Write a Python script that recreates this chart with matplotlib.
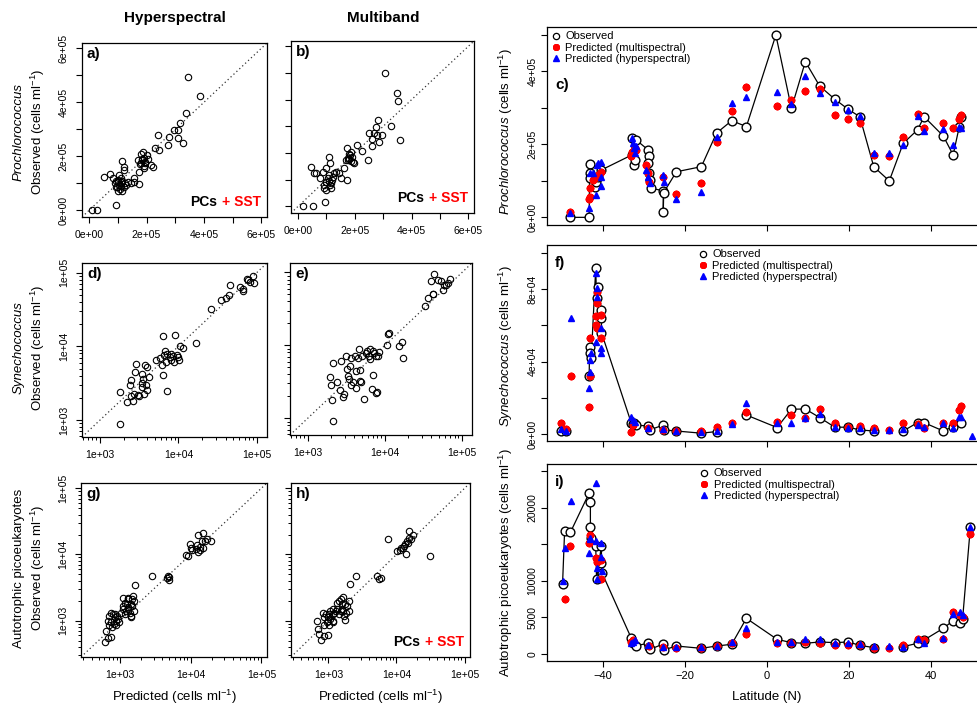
import numpy as np
import matplotlib
matplotlib.use('Agg')
import matplotlib.pyplot as plt
from matplotlib.lines import Line2D
from matplotlib.ticker import FixedLocator, NullFormatter, LogLocator, FuncFormatter

plt.rcParams['font.family'] = ['Liberation Sans', 'DejaVu Sans']
plt.rcParams['mathtext.fontset'] = 'custom'
plt.rcParams['mathtext.rm'] = 'Liberation Sans'
plt.rcParams['mathtext.it'] = 'Liberation Sans:italic'
plt.rcParams['mathtext.bf'] = 'Liberation Sans:bold'

nan = np.nan

# ---- scatter panels: predicted (x) vs observed (y) ----
# a) Prochlorococcus, hyperspectral (units of 1e5 cells/ml)
a_pred = [0.09, 0.27, 0.94, 0.51, 0.71, 0.82, 0.95, 1.0, 1.05, 1.1, 0.98, 1.08, 1.15, 1.2, 1.25, 1.3, 1.35, 1.14, 1.23, 1.2,
          1.1, 1.02, 1.15, 1.45, 1.55, 1.58, 1.73, 1.75, 1.8, 1.85, 1.9, 1.78, 1.95, 2.0, 1.88, 1.82, 1.95, 2.05, 1.92, 2.16,
          2.22, 2.3, 2.39, 2.45, 2.74, 2.8, 2.97, 3.09, 3.15, 3.11, 3.26, 3.38, 3.44, 3.87, 0.9, 1.0, 1.05, 1.12, 0.93, 1.85,
          1.9, 1.7]
a_obs = [0.0, 0.0, 0.19, 1.24, 1.36, 1.18, 1.1, 1.05, 0.95, 0.9, 0.85, 0.78, 0.72, 0.85, 1.0, 0.95, 1.05, 1.82, 1.61, 1.5,
         1.2, 1.12, 1.1, 1.0, 1.05, 1.18, 0.99, 1.4, 1.75, 1.85, 1.95, 1.7, 1.8, 2.05, 2.15, 2.08, 1.75, 1.9, 1.55, 1.67,
         1.61, 2.29, 2.78, 2.23, 2.41, 2.72, 2.97, 2.97, 3.22, 2.66, 2.48, 3.59, 4.95, 4.25, 1.0, 0.7, 1.3, 1.05, 0.85, 1.9,
         1.65, 1.85]

# b) Prochlorococcus, multiband (1e5 cells/ml)
b_pred = [0.17, 0.52, 0.95, 0.47, 0.55, 0.64, 0.76, 0.9, 0.93, 0.99, 1.05, 1.1, 1.08, 1.13, 1.16, 1.2, 1.22, 1.28, 1.34, 1.45,
          1.51, 0.99, 0.87, 0.97, 1.16, 1.71, 1.63, 1.69, 1.71, 1.8, 1.83, 1.78, 1.86, 1.9, 1.76, 1.97, 1.92, 2.07, 2.24, 2.47,
          2.59, 2.62, 2.5, 2.67, 2.73, 2.79, 2.85, 2.83, 2.94, 3.26, 3.6, 3.52, 3.49, 3.08, 1.0, 1.1, 1.12, 1.75, 1.85]
b_obs = [0.0, 0.0, 0.16, 1.49, 1.24, 1.24, 1.05, 0.68, 0.8, 0.93, 1.05, 1.18, 1.86, 1.61, 0.87, 0.99, 1.11, 1.24, 1.3, 1.24,
         1.05, 1.42, 1.3, 0.62, 0.68, 0.99, 1.42, 1.73, 2.2, 1.79, 1.92, 1.98, 2.04, 1.86, 1.82, 1.61, 1.67, 2.31, 2.07, 1.73,
         2.25, 2.54, 2.75, 2.76, 2.97, 2.69, 2.41, 3.22, 2.66, 3.0, 2.48, 3.94, 4.25, 4.99, 0.9, 0.95, 0.8, 1.75, 1.7]

# d) Synechococcus, hyperspectral (log10 cells/ml)
d_pred = [3.25, 3.25, 3.35, 3.38, 3.39, 3.40, 3.42, 3.43, 3.45, 3.46, 3.48, 3.50, 3.53, 3.53, 3.54, 3.55, 3.56, 3.58, 3.59, 3.60,
          3.62, 3.60, 3.72, 3.77, 3.79, 3.80, 3.80, 3.81, 3.83, 3.84, 3.85, 3.86, 3.89, 3.90, 3.91, 3.93, 3.94, 3.95, 3.98, 4.00,
          4.01, 4.02, 4.06, 4.23, 4.41, 4.54, 4.61, 4.65, 4.66, 4.78, 4.83, 4.83, 4.87, 4.89, 4.95, 4.97, 4.91]
d_obs = [2.95, 3.38, 3.25, 3.47, 3.54, 3.32, 3.26, 3.36, 3.65, 3.76, 3.34, 3.32, 3.63, 3.45, 3.50, 3.56, 3.36, 3.74, 3.47, 3.41,
         3.59, 3.72, 3.81, 3.84, 3.74, 3.61, 4.14, 3.88, 3.93, 3.79, 3.40, 3.90, 3.86, 3.81, 3.90, 3.87, 3.79, 4.16, 3.88, 3.86,
         3.81, 4.00, 3.98, 4.04, 4.51, 4.63, 4.66, 4.69, 4.83, 4.81, 4.78, 4.75, 4.91, 4.90, 4.95, 4.86, 4.87]

# e) Synechococcus, multiband (log10 cells/ml)
e_pred = [3.33, 3.32, 3.30, 3.29, 3.33, 3.38, 3.42, 3.43, 3.46, 3.47, 3.50, 3.51, 3.52, 3.53, 3.55, 3.56, 3.56, 3.59, 3.61, 3.62,
          3.63, 3.65, 3.66, 3.68, 3.68, 3.69, 3.70, 3.73, 3.75, 3.77, 3.79, 3.81, 3.83, 3.85, 3.85, 3.86, 3.88, 3.89, 3.90, 3.91,
          3.92, 3.81, 4.03, 4.04, 4.06, 4.18, 4.22, 4.23, 4.52, 4.56, 4.62, 4.63, 4.60, 4.64, 4.69, 4.73, 4.75, 4.77, 4.79, 4.84,
          4.82]
e_obs = [2.96, 3.25, 3.45, 3.56, 3.76, 3.50, 3.39, 3.79, 3.29, 3.33, 3.85, 3.67, 3.58, 3.54, 3.72, 3.83, 3.45, 3.50, 3.86, 3.42,
         3.65, 3.83, 3.95, 3.66, 3.51, 3.50, 3.85, 3.26, 3.90, 3.92, 3.86, 3.81, 3.40, 3.60, 3.92, 3.90, 3.35, 3.85, 3.36, 3.86,
         3.91, 3.95, 4.01, 4.16, 4.17, 3.99, 4.05, 3.83, 4.54, 4.65, 4.70, 4.71, 4.88, 4.98, 4.90, 4.88, 4.76, 4.83, 4.83, 4.91,
         4.85]

# g) Autotrophic picoeukaryotes, hyperspectral (log10 cells/ml)
g_pred = [2.79, 2.83, 2.88, 2.80, 2.85, 2.89, 2.83, 2.85, 2.88, 2.90, 2.93, 2.94, 2.91, 2.95, 2.98, 2.96, 2.99, 3.01, 3.04, 3.07,
          3.09, 3.05, 2.88, 2.93, 3.05, 3.07, 3.10, 3.12, 3.15, 3.12, 3.14, 3.15, 3.16, 3.17, 3.20, 3.20, 3.17, 3.19, 3.11, 3.12,
          3.22, 3.45, 3.67, 3.68, 3.69, 3.70, 3.94, 3.96, 3.99, 4.01, 4.02, 4.08, 4.11, 4.09, 4.13, 4.16, 4.11, 4.17, 4.18, 4.21,
          4.23, 4.13, 4.29]
g_obs = [2.68, 2.73, 2.75, 2.85, 2.93, 2.90, 3.00, 3.07, 3.12, 3.10, 3.05, 3.00, 2.95, 2.93, 3.02, 3.07, 2.98, 3.12, 3.17, 3.10,
         3.14, 3.22, 2.98, 3.10, 3.34, 3.27, 3.25, 3.32, 3.25, 3.17, 3.12, 3.07, 3.05, 3.22, 3.15, 3.30, 3.32, 3.37, 3.34, 3.20,
         3.54, 3.67, 3.64, 3.68, 3.62, 3.66, 3.99, 3.98, 4.16, 4.09, 4.07, 4.08, 4.04, 4.14, 4.12, 4.21, 4.30, 4.32, 4.09, 4.21,
         4.23, 4.06, 4.21]

# h) Autotrophic picoeukaryotes, multiband (log10 cells/ml)
h_pred = [2.89, 2.93, 2.84, 2.83, 2.86, 2.94, 2.98, 2.94, 2.92, 2.96, 2.99, 3.01, 3.00, 2.99, 3.01, 3.03, 3.06, 3.02, 3.06, 3.08,
          3.07, 3.06, 3.11, 3.13, 3.18, 3.15, 3.13, 3.15, 3.18, 3.20, 3.20, 3.22, 3.22, 3.23, 3.25, 3.26, 3.28, 3.30, 3.30, 3.31,
          3.41, 3.24, 3.71, 3.75, 3.77, 3.88, 4.01, 4.05, 4.07, 4.11, 4.12, 4.15, 4.17, 4.14, 4.19, 4.22, 4.24, 4.19, 4.09, 4.49]
h_obs = [2.70, 2.77, 2.88, 3.00, 2.80, 2.93, 2.98, 3.05, 3.11, 3.10, 3.05, 3.10, 3.00, 2.78, 2.93, 3.02, 2.98, 3.15, 3.17, 3.12,
         3.00, 3.10, 3.15, 3.17, 3.15, 3.10, 3.27, 3.30, 3.32, 3.25, 3.17, 3.35, 3.15, 3.07, 3.01, 3.12, 3.22, 3.15, 3.30, 3.55,
         3.68, 3.25, 3.68, 3.63, 3.65, 4.24, 4.05, 4.06, 4.09, 4.13, 4.16, 4.20, 4.18, 4.01, 4.36, 4.24, 4.30, 4.25, 4.09, 3.98]

# ---- latitude panels ----
# c) Prochlorococcus (1e5 cells/ml)
c_obs_lat = [-48.1, -43.4, -43.3, -43.3, -43.3, -42.0, -41.8, -41.2, -40.4, -33.0, -32.9, -32.5, -32.1, -31.9, -29.0, -28.9,
             -29.0, -28.8, -28.6, -28.4, -25.3, -25.3, -25.2, -22.1, -16.0, -12.3, -8.6, -5.0, 2.2, 6.0, 9.4, 12.9, 16.6,
             19.9, 22.7, 26.1, 29.9, 33.3, 36.8, 38.4, 43.1, 45.5, 47.0, 47.5]
c_obs = [0.0, 0.0, 1.46, 1.21, 1.07, 0.84, 0.98, 1.12, 1.30, 1.71, 2.17, 1.44, 1.57, 2.12, 1.85, 1.67, 1.48, 1.21, 1.02, 0.80,
         0.73, 0.16, 0.68, 1.25, 1.39, 2.31, 2.65, 2.49, 5.0, 2.99, 4.27, 3.6, 3.24, 2.96, 2.76, 1.39, 1.0, 2.03, 2.4, 2.76,
         2.23, 1.71, 2.49, 2.76]
c_multi_lat = [-48.1, -43.4, -43.3, -43.2, -42.5, -41.6, -40.9, -40.4, -33.1, -32.7, -31.9, -29.4, -29.0, -28.8, -25.3, -22.1,
               -16.0, -12.3, -8.6, -5.0, 2.5, 6.0, 9.4, 12.9, 16.6, 19.9, 22.7, 26.1, 29.9, 33.3, 36.8, 38.4, 43.1, 45.5,
               47.0, 47.5, -42.0, -41.2, -33.0, -32.3]
c_multi = [0.16, 0.49, 0.55, 0.8, 1.03, 1.12, 1.17, 1.25, 1.67, 1.76, 1.85, 1.44, 1.21, 0.98, 1.12, 0.64, 0.95, 2.06, 2.93,
           3.57, 3.06, 3.22, 3.47, 3.51, 2.81, 2.7, 2.58, 1.71, 1.69, 2.21, 2.84, 2.46, 2.58, 2.44, 2.69, 2.81, 1.1, 1.15,
           1.8, 1.9]
c_hyper_lat = [-48.1, -43.4, -43.3, -42.4, -41.8, -41.6, -41.2, -40.6, -40.4, -40.4, -33.0, -32.8, -32.4, -32.2, -31.9, -29.4,
               -29.0, -28.6, -25.3, -25.2, -22.1, -16.0, -12.3, -8.6, -5.0, 2.5, 6.0, 9.4, 12.9, 16.6, 19.9, 22.7, 26.1, 29.9,
               33.3, 36.8, 38.4, 43.1, 45.5, 47.0, 47.5]
c_hyper = [0.11, 0.25, 1.21, 1.21, 0.61, 1.44, 1.48, 1.53, 1.12, 0.86, 2.17, 2.03, 1.89, 1.76, 1.95, 1.30, 1.12, 0.95, 1.16,
           0.98, 0.50, 0.70, 2.21, 3.13, 3.29, 3.43, 3.11, 3.88, 3.40, 3.17, 2.95, 2.79, 1.76, 1.76, 1.99, 2.78, 2.38, 2.42,
           1.99, 2.49, 2.44]

# f) Synechococcus (1e4 cells/ml)
f_obs_lat = [-50.2, -49.1, -47.0, -43.4, -43.3, -43.1, -42.9, -41.8, -41.6, -41.2, -40.4, -40.4, -40.4, -33.1, -32.8, -32.4,
             -31.9, -29.0, -28.6, -25.3, -25.2, -22.1, -16.0, -12.3, -8.6, -5.0, 2.5, 6.0, 9.4, 12.9, 16.6, 19.9, 22.7, 26.1,
             29.9, 33.3, 36.8, 38.4, 43.1, 45.5, 47.5]
f_obs = [0.18, 0.18, nan, 3.23, 4.79, 4.5, 4.18, 9.14, 7.49, 8.09, 6.84, 6.39, 5.6, 0.61, 0.55, 0.64, 0.5, 0.46, 0.24, 0.51,
         0.24, 0.18, 0.06, 0.15, nan, 1.06, 0.37, 1.38, 1.39, 0.92, 0.39, 0.39, 0.24, 0.18, nan, 0.18, 0.64, 0.64, 0.18, 0.42,
         0.61]
f_multi_lat = [-50.2, -49.1, -47.9, -43.4, -43.3, -43.1, -41.8, -41.8, -41.6, -41.6, -41.4, -40.4, -40.4, -33.1, -32.7, -29.0,
               -25.3, -22.1, -16.0, -12.3, -8.6, -5.0, 2.5, 6.0, 9.4, 12.9, 16.6, 19.9, 22.7, 26.1, 29.9, 33.3, 36.8, 38.4,
               43.1, 45.5, 47.0, 47.5]
f_multi = [0.61, 0.28, 3.23, 1.52, 3.23, 5.32, 6.02, 6.51, 5.83, 7.25, 7.85, 5.28, 6.57, 0.15, 0.5, 0.33, 0.24, 0.18, 0.18,
           0.42, 0.61, 1.25, 0.7, 1.06, 0.88, 1.38, 0.64, 0.42, 0.46, 0.33, 0.24, 0.64, 0.55, 0.33, 0.61, 0.64, 1.34, 1.58]
f_hyper_lat = [-50.2, -49.1, -47.9, -43.4, -43.3, -43.1, -42.9, -41.8, -41.8, -41.6, -41.4, -40.4, -40.4, -40.4, -33.1, -32.7,
               -32.3, -29.0, -25.3, -22.1, -16.0, -12.3, -8.6, -5.0, 2.5, 6.0, 9.4, 12.9, 16.6, 19.9, 22.7, 26.1, 29.9, 33.3,
               36.8, 38.4, 43.1, 45.5, 47.0, 47.5, 50.0]
f_hyper = [0.29, 0.18, 6.39, 2.57, 4.09, 3.45, 4.46, 5.1, 8.86, 8.04, 7.58, 5.83, 4.73, 4.5, 0.97, 0.79, 0.7, 0.33, 0.28, 0.18,
           0.15, 0.18, 0.55, 1.71, 0.61, 0.64, 0.92, 1.12, 0.42, 0.37, 0.33, 0.24, 0.24, 0.28, 0.51, 0.42, 0.64, 0.37, 0.97,
           0.97, -0.07]

# i) Autotrophic picoeukaryotes (1e3 cells/ml)
i_obs_lat = [-49.9, -49.4, -48.0, -43.4, -43.1, -43.1, -42.9, -41.8, -41.6, -40.4, -40.4, -40.2, -33.1, -32.7, -31.9, -29.0,
             -28.8, -28.5, -25.3, -25.2, -22.1, -16.0, -12.3, -8.6, -5.0, 2.5, 6.0, 9.4, 12.9, 16.6, 19.9, 22.7, 26.1, 29.9,
             33.3, 36.8, 38.4, 43.1, 45.5, 47.1, 47.8, 49.7]
i_obs = [9.57, 16.8, 16.6, 22.0, 20.7, 17.4, 15.8, 14.8, 10.3, 14.8, 12.4, 11.0, 2.14, 1.46, 1.14, 1.46, 1.0, 0.64, 1.37, 0.55,
         1.09, 0.77, 1.09, 1.32, 4.87, 2.0, 1.55, 1.46, 1.64, 1.55, 1.64, 1.18, 0.87, nan, 1.0, 1.46, 1.91, 3.51, 4.56, 4.28,
         4.74, 17.3]
i_multi_lat = [-49.3, -48.0, -43.4, -43.1, -41.8, -41.5, -41.0, -40.4, -40.4, -33.1, -32.7, -28.8, -25.3, -22.1, -16.0, -12.3,
               -8.6, -5.0, 2.5, 6.0, 9.4, 12.9, 16.6, 19.9, 22.7, 26.1, 29.9, 33.3, 36.8, 38.4, 43.1, 45.5, 47.1, 47.8, 49.7]
i_multi = [7.47, 14.8, 15.1, 16.3, 13.1, 12.6, 12.8, 10.2, 12.8, 1.69, 1.91, 1.09, 1.0, 0.87, 0.77, 1.09, 1.46, 2.69, 1.55,
           1.46, 1.59, 1.55, 1.23, 1.23, 1.23, 0.87, 0.87, 1.23, 2.0, 1.91, 2.05, 5.79, 5.33, 5.1, 16.4]
i_hyper_lat = [-49.9, -49.3, -47.9, -43.4, -43.3, -43.1, -41.8, -41.8, -41.6, -41.6, -40.4, -40.4, -40.2, -33.1, -32.7, -32.3,
               -29.0, -25.3, -22.1, -16.0, -12.3, -8.6, -5.0, 2.5, 6.0, 9.4, 12.9, 16.6, 19.9, 22.7, 26.1, 29.9, 33.3, 36.8,
               38.4, 43.1, 45.5, 47.1, 47.8, 49.7]
i_hyper = [10.0, 14.5, 20.9, 13.8, 15.9, 15.7, 23.4, 15.4, 11.7, 10.3, 15.2, 13.3, 11.3, 1.55, 1.69, 1.91, 1.23, 0.91, 1.0,
           0.91, 1.14, 1.69, 3.51, 1.59, 1.69, 2.0, 2.0, 1.55, 1.46, 1.32, 1.14, 1.09, 1.0, 2.05, 1.55, 2.14, 5.47, 5.79,
           5.33, 17.4]

legend_labels = ['Observed', 'Predicted (multispectral)', 'Predicted (hyperspectral)']
lat_ticks = [-40, -20, 0, 20, 40]

W, H = 977.0, 710.0
fig = plt.figure(figsize=(W / 100, H / 100), dpi=100)


def px_rect(left, top, right, bottom):
    return [left / W, 1 - bottom / H, (right - left) / W, (bottom - top) / H]


def sci(v, pos=None):
    return f'{v:.0e}'


def scatter_panel(box, pred, obs, lims, letter, log, xlab=True, ylab=True, pcs=False):
    ax = fig.add_axes(px_rect(*box))
    if log:
        ax.set_xscale('log')
        ax.set_yscale('log')
        pred = 10 ** np.array(pred)
        obs = 10 ** np.array(obs)
    else:
        pred = np.array(pred) * 1e5
        obs = np.array(obs) * 1e5
    ax.axline((lims[0], lims[0]), (lims[1], lims[1]), linestyle=(0, (1, 2.2)), color='0.2', lw=0.9)
    ax.plot(pred, obs, 'o', mfc='none', mec='black', ms=4.6, mew=0.8)
    ax.set_xlim(lims)
    ax.set_ylim(lims)
    for axis in (ax.xaxis, ax.yaxis):
        if log:
            axis.set_major_locator(FixedLocator([1e3, 1e4, 1e5]))
            axis.set_minor_locator(LogLocator(base=10, subs=np.arange(2, 10)))
            axis.set_minor_formatter(NullFormatter())
            axis.set_major_formatter(FuncFormatter(sci))
        else:
            axis.set_major_locator(FixedLocator(np.arange(7) * 1e5))
            axis.set_major_formatter(FuncFormatter(lambda v, p: sci(v) if round(v / 1e5) % 2 == 0 else ''))
    ax.tick_params(which='major', length=4.5, width=0.8, pad=5, labelsize=7.5)
    ax.tick_params(which='minor', length=2.5, width=0.7)
    ax.tick_params(axis='y', labelrotation=90, labelleft=ylab)
    ax.tick_params(axis='x', labelbottom=xlab)
    for lbl in ax.get_yticklabels():
        lbl.set_va('center')
    for s in ax.spines.values():
        s.set_linewidth(0.9)
    ax.text(0.027, 0.935, letter, transform=ax.transAxes, fontsize=11, fontweight='bold', ha='left', va='center')
    if pcs:
        t = ax.text(0.965, 0.085, '+ SST', color='red', fontsize=10, fontweight='bold',
                    ha='right', va='center', transform=ax.transAxes)
        ax.annotate('PCs', xy=(0, 0.5), xycoords=t, xytext=(-3, 0), textcoords='offset points',
                    ha='right', va='center', fontsize=10, fontweight='bold', color='black')
    return ax


def lat_panel(box, obs_lat, obs, m_lat, m, h_lat, h, scale, ylim, yticks, ylabels, letter, leg_x, xlab=False):
    ax = fig.add_axes(px_rect(*box))
    ax.plot(obs_lat, np.array(obs) * scale, '-', color='black', lw=0.9, zorder=2)
    ax.plot(obs_lat, np.array(obs) * scale, 'o', mfc='white', mec='black', ms=6.3, mew=1.0, zorder=3)
    ax.plot(m_lat, np.array(m) * scale, ls='none', marker=(8, 2, 0), color='red', mec='red', ms=5.5, mew=1.6, zorder=4)
    ax.plot(h_lat, np.array(h) * scale, ls='none', marker='^', color='blue', mec='blue', ms=4.5, zorder=5)
    ax.set_xlim(-53.7, 54.5)
    ax.set_ylim(ylim)
    ax.xaxis.set_major_locator(FixedLocator(lat_ticks))
    ax.yaxis.set_major_locator(FixedLocator(yticks))
    ax.yaxis.set_major_formatter(FuncFormatter(lambda v, p: ylabels.get(round(v), '')))
    ax.tick_params(length=4, width=0.8, pad=3, labelsize=7.5)
    ax.tick_params(axis='y', labelrotation=90)
    ax.tick_params(axis='x', labelbottom=xlab, labelsize=8)
    for lbl in ax.get_yticklabels():
        lbl.set_va('center')
    for s in ax.spines.values():
        s.set_linewidth(0.9)
    ax.text(0.018, letter[1], letter[0], transform=ax.transAxes, fontsize=11, fontweight='bold', ha='left', va='center')
    handles = [Line2D([], [], ls='none', marker='o', mfc='none', mec='black', ms=4.5, mew=0.9),
               Line2D([], [], ls='none', marker=(8, 2, 0), color='red', mec='red', ms=5, mew=1.5),
               Line2D([], [], ls='none', marker='^', color='blue', ms=4.5)]
    ax.legend(handles, legend_labels, loc='upper left', bbox_to_anchor=(leg_x, 1.0), borderaxespad=0,
              frameon=False, fontsize=8, handlelength=0.8, handletextpad=0.45, labelspacing=0.12)
    return ax


lin_lim = (-0.25e5, 6.2e5)
syn_lim = (10 ** 2.77, 10 ** 5.13)
euk_lim = (10 ** 2.45, 10 ** 5.08)

scatter_panel((82, 43, 267, 217), a_pred, a_obs, lin_lim, 'a)', False, pcs=True)
scatter_panel((291, 41, 474, 213), b_pred, b_obs, lin_lim, 'b)', False, ylab=False, pcs=True)
scatter_panel((82, 263, 267, 437), d_pred, d_obs, syn_lim, 'd)', True)
scatter_panel((290, 263, 472, 435), e_pred, e_obs, syn_lim, 'e)', True, ylab=False)
scatter_panel((81, 483, 267, 657), g_pred, g_obs, euk_lim, 'g)', True)
scatter_panel((291, 483, 470, 657), h_pred, h_obs, euk_lim, 'h)', True, ylab=False, pcs=True)

lat_panel((547, 27, 990, 225), c_obs_lat, c_obs, c_multi_lat, c_multi, c_hyper_lat, c_hyper, 1e5,
          (-0.21e5, 5.22e5), np.arange(6) * 1e5, {0: '0e+00', 200000: '2e+05', 400000: '4e+05'},
          ('c)', 0.707), 0.0)
lat_panel((547, 245, 990, 441), f_obs_lat, f_obs, f_multi_lat, f_multi, f_hyper_lat, f_hyper, 1e4,
          (-0.37e4, 10.42e4), np.arange(6) * 2e4, {0: '0e+00', 40000: '4e+04', 80000: '8e+04'},
          ('f)', 0.908), 0.332)
lat_panel((547, 464, 990, 661), i_obs_lat, i_obs, i_multi_lat, i_multi, i_hyper_lat, i_hyper, 1e3,
          (-960, 25960), np.arange(6) * 5000, {0: '0', 5000: '5000', 10000: '10000', 20000: '20000'},
          ('i)', 0.909), 0.335, xlab=True)

# column titles and axis labels
fig.text(175 / W, 1 - 18 / H, 'Hyperspectral', fontsize=11, fontweight='bold', ha='center', va='center')
fig.text(383 / W, 1 - 18 / H, 'Multiband', fontsize=11, fontweight='bold', ha='center', va='center')

obs_label = 'Observed (cells ml$^{-1}$)'
for species, yc, italic in [('Prochlorococcus', 132, True), ('Synechococcus', 348, True),
                            ('Autotrophic picoeukaryotes', 568, False)]:
    fig.text(19 / W, 1 - yc / H, species, rotation=90, fontsize=9.5, style='italic' if italic else 'normal',
             ha='center', va='center')
    fig.text(38 / W, 1 - yc / H, obs_label, rotation=90, fontsize=9.5, ha='center', va='center')

for xc in (174, 380):
    fig.text(xc / W, 1 - 697 / H, 'Predicted (cells ml$^{-1}$)', fontsize=9.5, ha='center', va='center')

fig.text(506 / W, 1 - 132 / H, r'$\it{Prochlorococcus}$ (cells ml$^{-1}$)', rotation=90, fontsize=9.5,
         ha='center', va='center')
fig.text(506 / W, 1 - 346 / H, r'$\it{Synechococcus}$ (cells ml$^{-1}$)', rotation=90, fontsize=9.5,
         ha='center', va='center')
fig.text(506 / W, 1 - 563 / H, 'Autotrophic picoeukaryotes (cells ml$^{-1}$)', rotation=90, fontsize=9.5,
         ha='center', va='center')
fig.text(767 / W, 1 - 697 / H, 'Latitude (N)', fontsize=9.5, ha='center', va='center')

fig.savefig('out.png', dpi=100, facecolor='white')
